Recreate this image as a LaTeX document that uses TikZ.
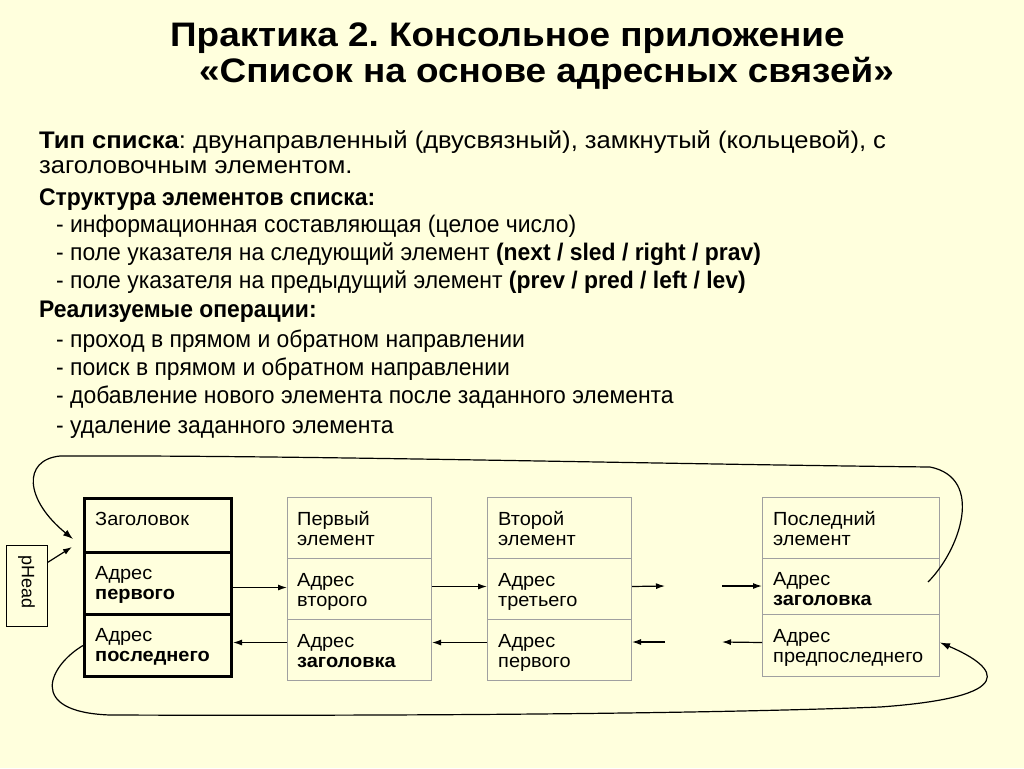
\documentclass[tikz,border=0pt]{standalone}
\usepackage{fontspec}
\setmainfont{Liberation Sans}
\newfontfamily\titlefont[FakeStretch=1.085]{Liberation Sans}
\newfontfamily\wideface[FakeStretch=1.066]{Liberation Sans}
\newfontfamily\narrowface[FakeStretch=0.955]{Liberation Sans}
\newfontfamily\cellface[FakeStretch=1.05]{Liberation Sans}
\usetikzlibrary{arrows.meta}
\definecolor{bg}{HTML}{FFFFDD}
\definecolor{cellgray}{HTML}{A0A0A0}
\frenchspacing
\begin{document}
\begin{tikzpicture}[x=1pt,y=-1pt,
  titletext/.style={anchor=base west, inner sep=0, font=\titlefont\fontsize{34}{40}\selectfont\bfseries},
  bodywide/.style={anchor=base west, inner sep=0, font=\wideface\fontsize{24}{28}\selectfont},
  bodytext/.style={anchor=base west, inner sep=0, font=\narrowface\fontsize{24}{28}\selectfont},
  celltext/.style={anchor=base west, inner sep=0, font=\cellface\fontsize{19}{20}\selectfont, align=left},
  hcell/.style={draw=black, line width=3pt, anchor=north west, inner sep=0, minimum width=147, minimum height=#1},
  ecell/.style={draw=cellgray, line width=1pt, anchor=north west, inner sep=0, minimum width=144, minimum height=#1},
  lcell/.style={ecell=#1, minimum width=177},
  link/.style={line width=1.2pt, -{Latex[length=9pt,width=6pt]}},
  loop/.style={line width=1.2pt, -{Latex[length=10pt,width=7pt]}}
]
\fill[bg] (0,0) rectangle (1024,768);
\useasboundingbox (0,0) rectangle (1024,768);

% title
\node[titletext] (t1) at (170,46) {Практика 2. Консольное приложение};
\node[titletext] (t2) at (199,82) {«Список на основе адресных связей»};

% body
\node[bodywide] (b1) at (39,148) {\textbf{Тип списка}: двунаправленный (двусвязный), замкнутый (кольцевой), с};
\node[bodywide] (b2) at (39,173) {заголовочным элементом.};
\node[bodytext] (b3) at (39,205) {\textbf{Структура элементов списка:}};
\node[bodytext] (b4) at (56,232) {- информационная составляющая (целое число)};
\node[bodytext] (b5) at (56,260) {- поле указателя на следующий элемент \textbf{(next / sled / right / prav)}};
\node[bodytext] (b6) at (56,288) {- поле указателя на предыдущий элемент \textbf{(prev / pred / left / lev)}};
\node[bodytext] (b7) at (39,317) {\textbf{Реализуемые операции:}};
\node[bodytext] (b8) at (56,347) {- проход в прямом и обратном направлении};
\node[bodytext] (b9) at (56,375) {- поиск в прямом и обратном направлении};
\node[bodytext] (b10) at (56,403) {- добавление нового элемента после заданного элемента};
\node[bodytext] (b11) at (56,433) {- удаление заданного элемента};

% header element
\node[hcell=54] (ha) at (83,497) {};
\node[hcell=62] (hb) at (83,551) {};
\node[hcell=62] (hc) at (83,613) {};
\node[celltext] (hat) at (95,525) {Заголовок};
\node[celltext] (hbt) at (95,599) {Адрес\\\textbf{первого}};
\node[celltext] (hct) at (95,661) {Адрес\\\textbf{последнего}};

% first element
\node[ecell=61] (ea) at (287,497) {};
\node[ecell=61] (eb) at (287,558) {};
\node[ecell=61] (ec) at (287,619) {};
\node[celltext] (eat) at (297,545) {Первый\\элемент};
\node[celltext] (ebt) at (297,606) {Адрес\\второго};
\node[celltext] (ect) at (297,667) {Адрес\\\textbf{заголовка}};

% second element
\node[ecell=61] (fa) at (487,497) {};
\node[ecell=61] (fb) at (487,558) {};
\node[ecell=61] (fc) at (487,619) {};
\node[celltext] (fat) at (498,545) {Второй\\элемент};
\node[celltext] (fbt) at (498,606) {Адрес\\третьего};
\node[celltext] (fct) at (498,667) {Адрес\\первого};

% last element
\node[lcell=61] (la) at (762,497) {};
\node[lcell=56] (lb) at (762,558) {};
\node[lcell=62] (lc) at (762,614) {};
\node[celltext] (lat) at (773,545) {Последний\\элемент};
\node[celltext] (lbt) at (773,605) {Адрес\\\textbf{заголовка}};
\node[celltext] (lct) at (773,662) {Адрес\\предпоследнего};

% pHead
\node[draw=black, line width=1pt, minimum width=41, minimum height=81, inner sep=0] (ph) at (26.5,585.5) {};
\node[rotate=-90, inner sep=0, font=\fontsize{18}{20}\selectfont] (pht) at (26.5,582) {pHead};

% free ends
\coordinate (n3) at (665,586);
\coordinate (n4) at (722,586);
\coordinate (p3) at (665,642);
\coordinate (p4) at (722,642);
\coordinate (lptr) at (928,582);
\coordinate (hin1) at (73,539);
\coordinate (hin2) at (72,547);

% next links
\draw[link] ([yshift=-4pt]hb.east) -- ([yshift=-4pt]hb.east -| eb.west);
\draw[link] ([yshift=2.5pt]eb.east) -- ([yshift=2.5pt]eb.east -| fb.west);
\draw[link] ([yshift=2.5pt]fb.east) -- (n3);
\draw[link] (n4) -- (n4 -| lb.west);
% prev links
\draw[link] ([yshift=7.5pt]ec.west) -- ([yshift=7.5pt]ec.west -| hc.east);
\draw[link] ([yshift=7.5pt]fc.west) -- ([yshift=7.5pt]fc.west -| ec.east);
\draw[link] (p3) -- (p3 -| fc.east);
\draw[link] ([yshift=3pt]lc.west) -- (p4);

% loops
\draw[loop] (lptr) .. controls (960,550) and (985,478) .. (930,467)
  .. controls (650,464) and (300,455) .. (60,456)
  .. controls (22,460) and (25,500) .. (hin1);
\draw[loop] (hc.west) .. controls (50,665) and (25,712) .. (110,715)
  .. controls (400,716) and (700,714) .. (880,707)
  .. controls (1020,697) and (1000,668) .. ([yshift=3pt]lc.east);
\draw[line width=1.2pt, -{Latex[length=9pt,width=6pt]}] ([yshift=23pt]ph.east) -- (hin2);
\end{tikzpicture}
\end{document}
